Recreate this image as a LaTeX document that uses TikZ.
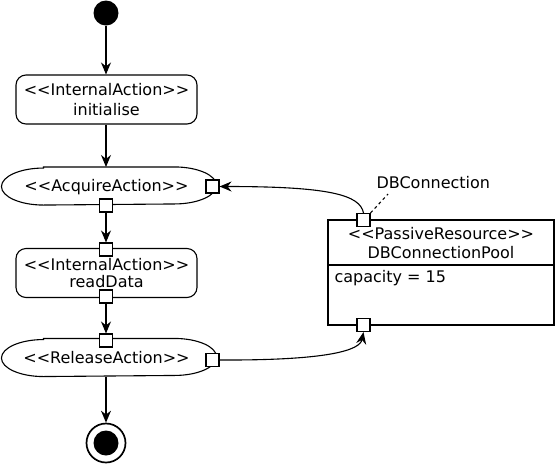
\documentclass[tikz,border=0pt]{standalone}
\usepackage{fontspec}
\setmainfont{DejaVu Sans}[Ligatures=TeXOff]
\usetikzlibrary{arrows.meta,calc}
\begin{document}
\begin{tikzpicture}[x=1pt,y=-1pt, line width=1.1pt,
  every node/.style={font=\fontsize{16}{19}\selectfont},
  txt/.style={anchor=base, inner sep=0pt},
  act/.style={draw, rounded corners=10pt, minimum width=181pt, minimum height=49pt, inner sep=0pt},
  stad/.style={minimum width=214pt, minimum height=37pt, inner sep=0pt},
  port/.style={draw, fill=white, minimum size=13pt, inner sep=0pt},
  flow/.style={-{Stealth[length=12pt,width=10pt,inset=4pt]}},
  ]
\useasboundingbox (0,0) rectangle (555,467);

\node[circle, fill, minimum size=25pt, inner sep=0pt] (init) at (106,13) {};
\node[act] (a1) at (106.5,99.5) {};
\node[txt] (a1s) at (106.5,95) {<<InternalAction>>};
\node[txt] (a1n) at (106.5,115) {initialise};
\node[stad] (acq) at (109,186) {};
\node[txt] (acqT) at (106.5,191) {<<AcquireAction>>};
\node[act] (rd) at (106.5,273) {};
\node[txt] (rds) at (106.5,270) {<<InternalAction>>};
\node[txt] (rdn) at (106.5,287) {readData};
\node[stad] (rel) at (109,357.5) {};
\node[txt] (relT) at (106.5,363) {<<ReleaseAction>>};
\node[circle, draw, line width=1.7pt, minimum size=39pt, inner sep=0pt] (fin) at (106,443) {};
\node[circle, fill, minimum size=25pt, inner sep=0pt] (finI) at (106,443) {};

\foreach \n in {acq,rel}{
  \draw ([xshift=42pt]\n.north west) -- ([xshift=-42pt]\n.north east)
    arc[start angle=90, end angle=-90, x radius=42pt, y radius=18.5pt]
    -- ([xshift=42pt]\n.south west)
    arc[start angle=270, end angle=90, x radius=42pt, y radius=18.5pt] -- cycle;
}

\node[draw, minimum width=226pt, minimum height=105pt, inner sep=0pt] (pr) at (441,272.5) {};
\draw (pr.west |- 0,265) -- (pr.east |- 0,265);
\node[txt] (prs) at (441,239) {<<PassiveResource>>};
\node[txt] (prn) at (441,258) {DBConnectionPool};
\node[anchor=base west, inner sep=0pt] (cap) at (334,282) {capacity = 15};
\node[anchor=base west, inner sep=0pt] (dbl) at (376,188) {DBConnection};

\node[port] (acqR) at (212.5,186.5) {};
\node[port] (acqB) at (106,205.5) {};
\node[port] (rdTp) at (106,249.5) {};
\node[port] (rdB) at (106,296.5) {};
\node[port] (relTp) at (106,340.5) {};
\node[port] (relR) at (212.5,360) {};
\node[port] (pT) at (363.5,220) {};
\node[port] (pB) at (363.5,325) {};

\draw[flow] (init) -- (a1.north -| init);
\draw[flow] (a1.south -| init) -- (acq.north -| init);
\draw[flow] (acqB) -- (rdTp);
\draw[flow] (rdB) -- (relTp);
\draw[flow] (rel.south -| fin) -- (fin);
\draw[flow] (pT.north) .. controls (360,195) and (330,186.5) .. (acqR.east);
\draw[flow] (relR.east) .. controls (330,360.5) and (360,350) .. (pB.south);
\draw[dashed] (pT.north east) -- (388,194);
\end{tikzpicture}
\end{document}
